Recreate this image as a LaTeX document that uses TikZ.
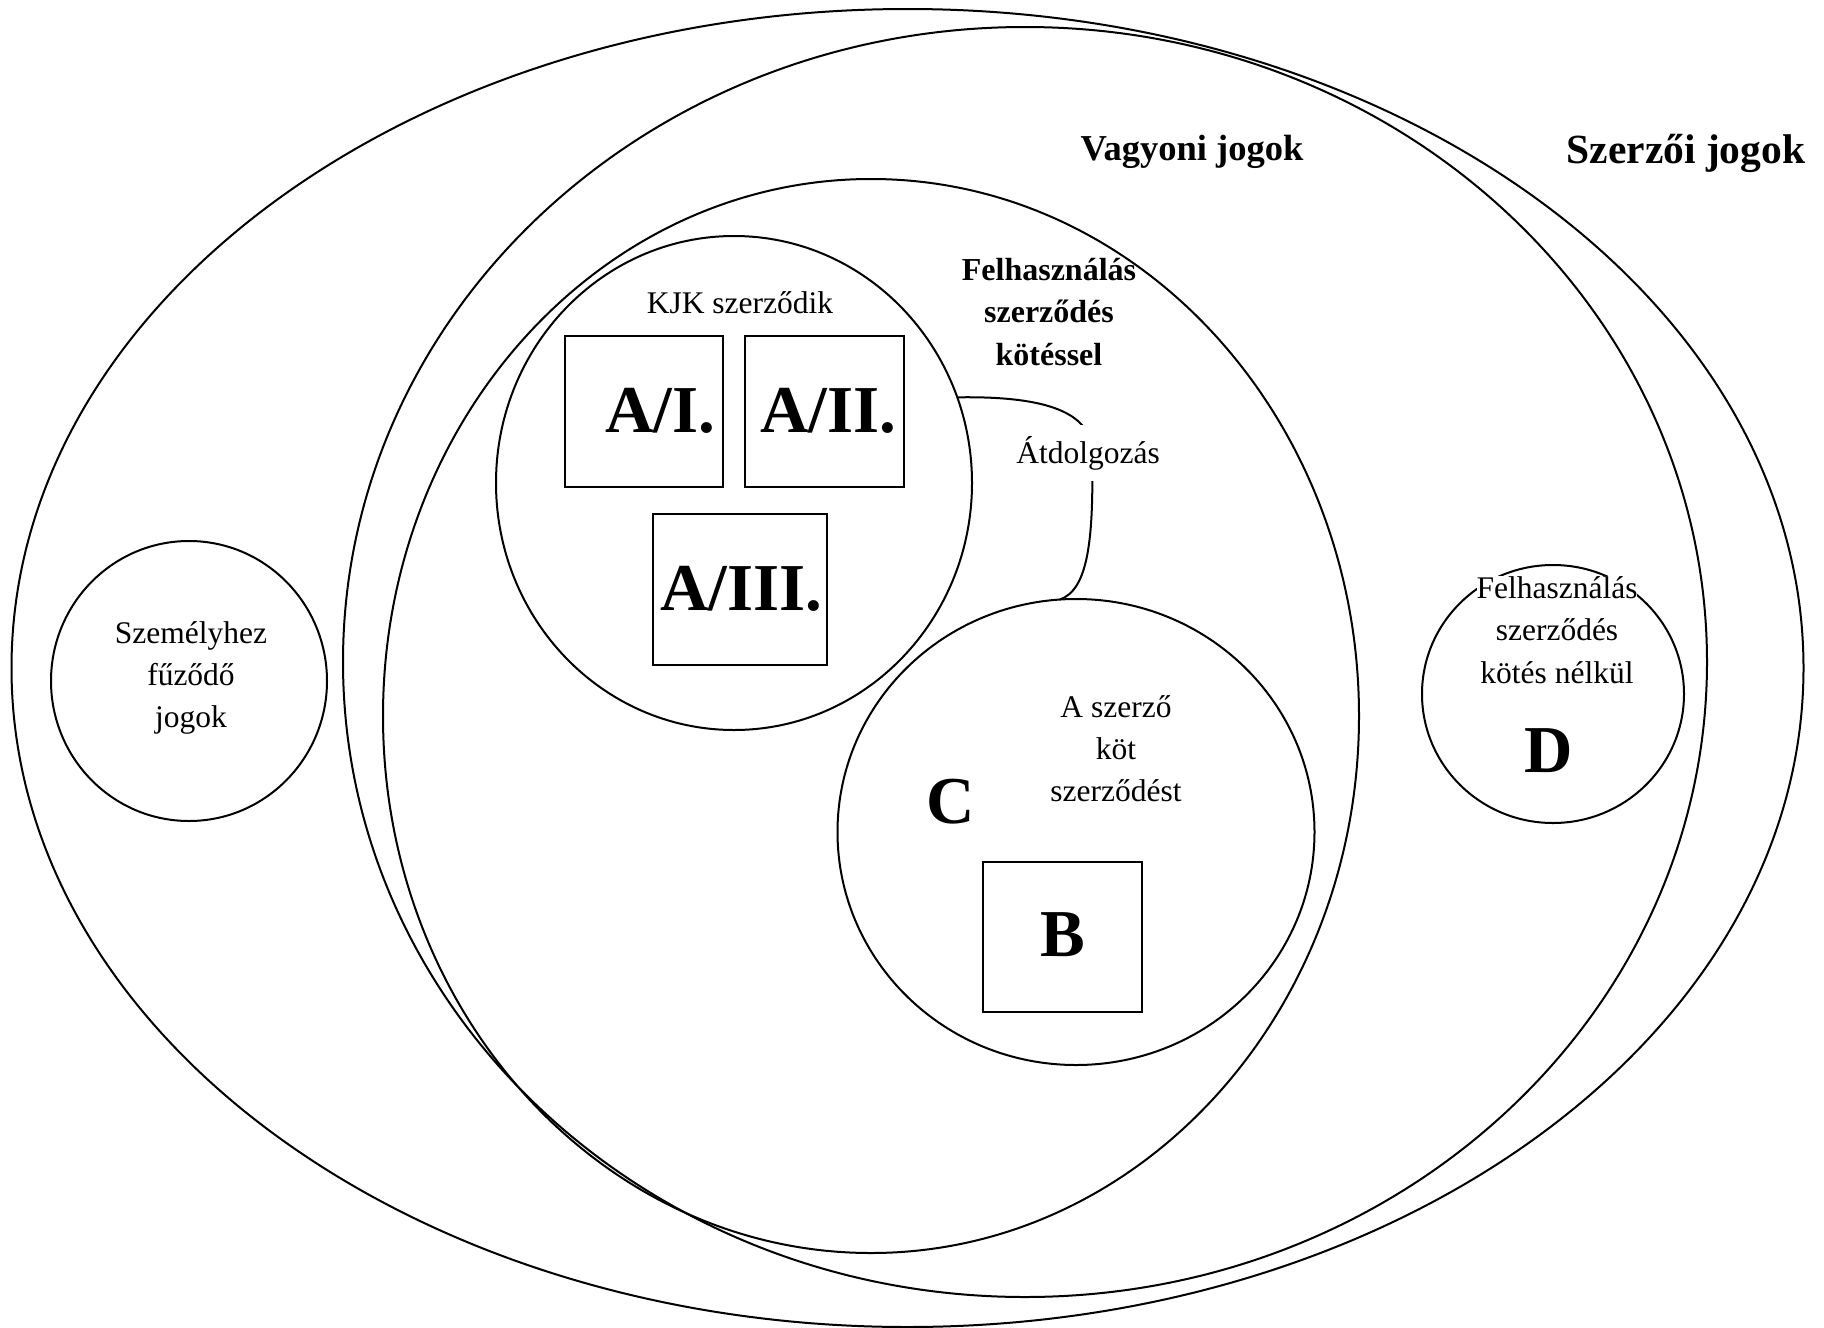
\documentclass[tikz,border=0pt]{standalone}
\usepackage{fontspec}
\setmainfont{Liberation Serif}
\usetikzlibrary{shapes.geometric}
\begin{document}
\begin{tikzpicture}[x=1pt,y=-1pt,
  line width=2pt,
  region/.style={draw, ellipse, inner sep=0pt, outer sep=0pt},
  abox/.style={draw, rectangle, inner sep=0pt, outer sep=0pt},
  txt/.style={font=\fontsize{31.5}{42}\selectfont, anchor=base, inner sep=0pt},
  btxt/.style={font=\fontsize{32}{42}\selectfont\bfseries, anchor=base, inner sep=0pt},
  big/.style={font=\fontsize{67}{80}\selectfont\bfseries, anchor=base, inner sep=0pt},
]
\useasboundingbox (0,0) rectangle (1824,1328);
\fill[white] (0,0) rectangle (1824,1328);

% regions
\node[region, minimum width=1792pt, minimum height=1318pt] (szerzoi) at (907.5,668) {};
\node[region, minimum width=1364pt, minimum height=1270pt] (vagyoni) at (1025,662) {};
\node[region, minimum width=976pt, minimum height=1074pt] (kotessel) at (871,716) {};
\node[region, minimum width=476pt, minimum height=494pt] (kjk) at (734,483) {};
\node[region, minimum width=477pt, minimum height=466pt] (cc) at (1076,832) {};
\node[region, minimum width=276pt, minimum height=280pt] (szemely) at (189,681) {};
\node[region, minimum width=262pt, minimum height=258pt] (dd) at (1553,694) {};

% boxes
\node[abox, minimum width=158pt, minimum height=151pt] (a1) at (644,411.5) {};
\node[abox, minimum width=159pt, minimum height=151pt] (a2) at (824.5,411.5) {};
\node[abox, minimum width=174pt, minimum height=151pt] (a3) at (740,589.5) {};
\node[abox, minimum width=159pt, minimum height=150pt] (bb) at (1062.5,937) {};

% connector
\draw (kjk.21) .. controls (1040,396) and (1090,410) .. (1092,450)
      .. controls (1094,540) and (1088,590) .. (cc.94);
\node[txt, fill=white, inner xsep=6pt, inner ysep=11pt] (atdolg) at (1088,463) {Átdolgozás};

% titles
\node[font=\fontsize{41.5}{50}\selectfont\bfseries, anchor=base, inner sep=0pt] (tszerzoi) at (1686,163) {Szerzői jogok};
\node[font=\fontsize{36.5}{44}\selectfont\bfseries, anchor=base, inner sep=0pt] (tvagyoni) at (1192,160) {Vagyoni jogok};

\node[btxt] (tf1) at (1049,280) {Felhasználás};
\node[btxt] (tf2) at (1049,322) {szerződés};
\node[btxt] (tf3) at (1049,365) {kötéssel};

\node[txt] (tkjk) at (740,313) {KJK szerződik};
\node[big] (ta1) at (660,432) {A/I.};
\node[big] (ta2) at (828,432) {A/II.};
\node[big] (ta3) at (741,610) {A/III.};

\node[txt] (tc1) at (1116,717) {A szerző};
\node[txt] (tc2) at (1116,759) {köt};
\node[txt] (tc3) at (1116,801) {szerződést};
\node[big] (tC) at (951,823) {C};
\node[big] (tB) at (1063,956) {B};

\node[txt] (ts1) at (191,643) {Személyhez};
\node[txt] (ts2) at (191,685) {fűződő};
\node[txt] (ts3) at (191,727) {jogok};

\node[txt, fill=white] (td1) at (1557,598) {Felhasználás};
\node[txt] (td2) at (1557,640) {szerződés};
\node[txt] (td3) at (1557,683) {kötés nélkül};
\node[big] (tD) at (1549,772) {D};
\end{tikzpicture}
\end{document}
